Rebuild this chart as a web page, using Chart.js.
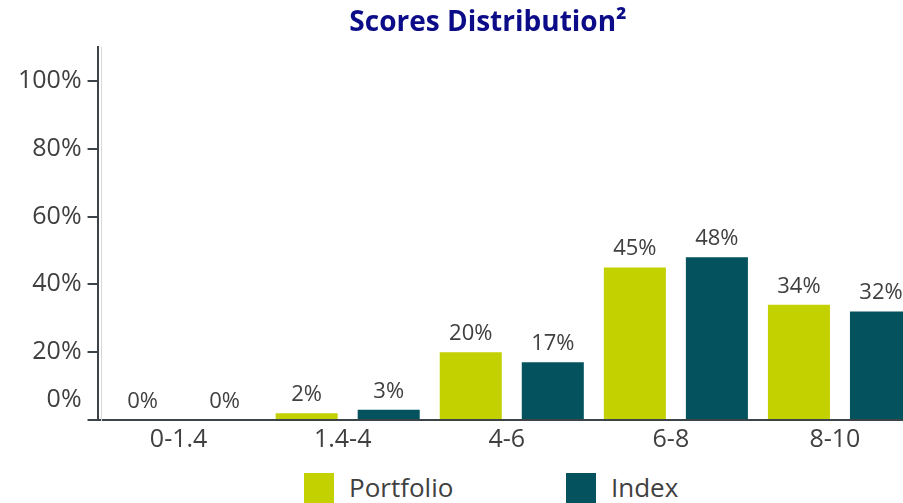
<!DOCTYPE html>
<html>
<head>
<meta charset="utf-8">
<script src="https://cdn.jsdelivr.net/npm/chart.js@4.4.0/dist/chart.umd.min.js"></script>
<style>
	html, body { margin: 0; padding: 0; background: #fff; overflow: hidden; }
	#wrap { position: relative; width: 982px; height: 503px; }
	#chart-box { position: absolute; left: 0; top: 0; width: 982px; height: 460px; }
	.lg-box { position: absolute; top: 473px; width: 30px; height: 32px; }
	.lg-text { position: absolute; top: 472px; font-family: 'Open Sans'; font-size: 26px; line-height: 30px; color: #404040; }
</style>
</head>
<body>
<div id="wrap">
	<div id="chart-box"><canvas id="scores"></canvas></div>
	<div class="lg-box" id="lg-box-0" style="left:304px"></div>
	<div class="lg-text" id="lg-text-0" style="left:349px"></div>
	<div class="lg-box" id="lg-box-1" style="left:566px"></div>
	<div class="lg-text" id="lg-text-1" style="left:611px"></div>
</div>
<script>
var categories = ['0-1.4', '1.4-4', '4-6', '6-8', '8-10'];
var portfolioValues = [0, 2, 20, 45, 34];
var indexValues = [0, 3, 17, 48, 32];
var seriesNames = ['Portfolio', 'Index'];
var yTicks = [0, 20, 40, 60, 80, 100];

var colPortfolio = '#c3d100';
var colIndex = '#03525d';
var axisCol = '#3d4448';
var textCol = '#404040';

// legend below the chart (html, spaced like the original)
document.getElementById('lg-box-0').style.background = colPortfolio;
document.getElementById('lg-box-1').style.background = colIndex;
document.getElementById('lg-text-0').textContent = seriesNames[0];
document.getElementById('lg-text-1').textContent = seriesNames[1];

// value labels above bars
var barValues = {
	id: 'barValues',
	afterDatasetsDraw: function (chart) {
		var ctx = chart.ctx;
		ctx.save();
		ctx.font = '22px "Open Sans"';
		ctx.fillStyle = textCol;
		ctx.textAlign = 'center';
		ctx.textBaseline = 'alphabetic';
		chart.data.datasets.forEach(function (ds, i) {
			chart.getDatasetMeta(i).data.forEach(function (bar, j) {
				ctx.fillText(ds.data[j] + '%', bar.x, bar.y - 12);
			});
		});
		ctx.restore();
	}
};

new Chart(document.getElementById('scores'), {
	type: 'bar',
	data: {
		labels: categories,
		datasets: [{
			label: seriesNames[0],
			data: portfolioValues,
			backgroundColor: colPortfolio,
			categoryPercentage: 1,
			barPercentage: 0.756
		}, {
			label: seriesNames[1],
			data: indexValues,
			backgroundColor: colIndex,
			categoryPercentage: 1,
			barPercentage: 0.756
		}]
	},
	plugins: [barValues],
	options: {
		responsive: true,
		maintainAspectRatio: false,
		animation: false,
		layout: { padding: { left: 12, right: 18, top: 0, bottom: 0 } },
		scales: {
			x: {
				offset: true,
				grid: { display: false, drawTicks: false },
				border: { display: true, color: axisCol, width: 2 },
				ticks: {
					color: textCol,
					font: { family: 'Open Sans', size: 25 },
					padding: 5,
					labelOffset: -5,
					maxRotation: 0,
					autoSkip: false
				}
			},
			y: {
				position: 'left',
				weight: 1,
				min: 0,
				max: 110,
				afterBuildTicks: function (scale) {
					scale.ticks = yTicks.map(function (v) { return { value: v }; });
				},
				afterFit: function (scale) {
					scale.paddingTop = 0;
					scale.paddingBottom = 0;
				},
				grid: { drawOnChartArea: false, drawTicks: true, tickLength: 10, color: axisCol, lineWidth: 2 },
				border: { display: true, color: axisCol, width: 2 },
				ticks: {
					autoSkip: false,
					padding: 6,
					color: textCol,
					font: function (c) {
						// the 0% label sits a bit above its tick in the original
						var lh = (c.tick && c.tick.value === 0) ? 1.6 : 1.2;
						return { family: 'Open Sans', size: 25, lineHeight: lh };
					},
					callback: function (v) {
						return v === 0 ? ['0%', ''] : v + '%';
					}
				}
			},
			// light line just inside the y axis in the original
			gap: {
				type: 'linear',
				position: 'left',
				weight: 0,
				min: 0,
				max: 110,
				afterBuildTicks: function (scale) { scale.ticks = [{ value: 0 }]; },
				afterFit: function (scale) { scale.width = 4; },
				ticks: { display: false },
				grid: { drawOnChartArea: false, drawTicks: true, tickLength: 4, color: axisCol, lineWidth: 2 },
				border: { display: true, color: '#d9d9d9', width: 1 }
			},
			// empty room on the right, the picture is cut there
			spacer: {
				type: 'linear',
				position: 'right',
				afterFit: function (scale) { scale.width = 42; },
				ticks: { display: false },
				grid: { display: false },
				border: { display: false }
			}
		},
		plugins: {
			legend: { display: false },
			tooltip: { enabled: false },
			title: {
				display: true,
				text: 'Scores Distribution²',
				color: '#0c0c88',
				font: { family: 'Open Sans', size: 28, weight: 'bold', lineHeight: 1.2 },
				padding: { top: 6, bottom: 7.4 }
			}
		}
	}
});
</script>
</body>
</html>
